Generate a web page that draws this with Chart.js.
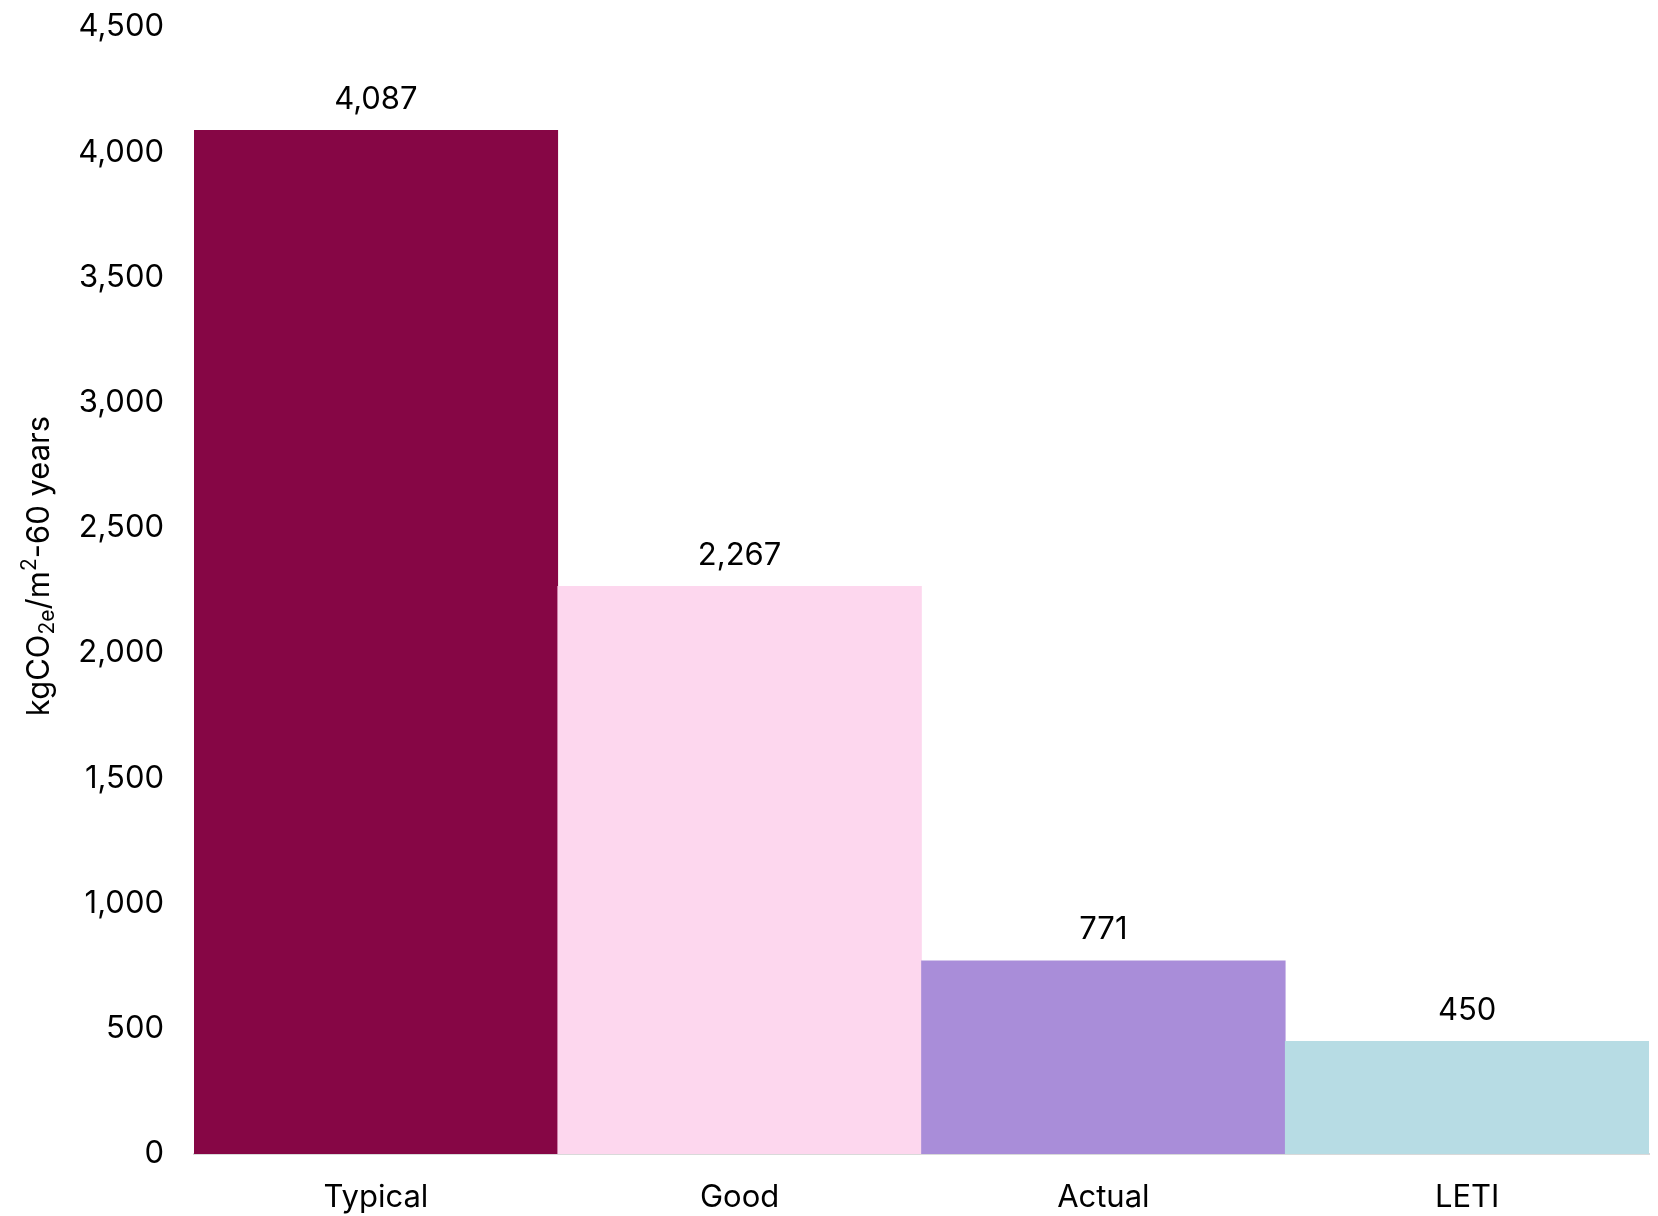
<!DOCTYPE html>
<html lang="en">
<head>
<meta charset="UTF-8">
<title>Embodied carbon comparison</title>
<script src="https://cdn.jsdelivr.net/npm/chart.js"></script>
<style>
    html, body { margin: 0; padding: 0; background: #ffffff; }
    #wrap { width: 1658px; height: 1216px; }
</style>
</head>
<body>
<div id="wrap"><canvas id="carbonChart"></canvas></div>
<script>
const categories = ['Typical', 'Good', 'Actual', 'LETI'];
const carbonValues = [4087, 2267, 771, 450];
const barColors = ['#860645', '#FDD7EE', '#A98DD9', '#B7DCE4'];
const yTicks = [0, 500, 1000, 1500, 2000, 2500, 3000, 3500, 4000, 4500];

const FONT = 'Inter, "Noto Sans", sans-serif';

// value labels above each bar
const barLabels = {
    id: 'barLabels',
    afterDatasetsDraw(chart) {
        const ctx = chart.ctx;
        const meta = chart.getDatasetMeta(0);
        ctx.save();
        ctx.font = '31px ' + FONT;
        ctx.fillStyle = '#000';
        ctx.textAlign = 'center';
        ctx.textBaseline = 'middle';
        meta.data.forEach((bar, i) => {
            ctx.fillText(carbonValues[i].toLocaleString('en-US'), bar.x, bar.y - 31);
        });
        ctx.restore();
    }
};

// rotated y title with subscript / superscript
const yTitle = {
    id: 'yTitle',
    afterDraw(chart) {
        const ctx = chart.ctx;
        const parts = [
            { t: 'kgCO', size: 31, dy: 0 },
            { t: '2e', size: 21, dy: 8 },
            { t: '/m', size: 31, dy: 0 },
            { t: '2', size: 21, dy: -10 },
            { t: '-60 years', size: 31, dy: 0 }
        ];
        ctx.save();
        let total = 0;
        parts.forEach(p => { ctx.font = p.size + 'px ' + FONT; p.w = ctx.measureText(p.t).width; total += p.w; });
        ctx.translate(40, 566);
        ctx.rotate(-Math.PI / 2);
        ctx.fillStyle = '#000';
        ctx.textBaseline = 'middle';
        ctx.textAlign = 'left';
        let x = -total / 2;
        parts.forEach(p => {
            ctx.font = p.size + 'px ' + FONT;
            ctx.fillText(p.t, x, p.dy);
            x += p.w;
        });
        ctx.restore();
    }
};

const ctx = document.getElementById('carbonChart').getContext('2d');
new Chart(ctx, {
    type: 'bar',
    data: {
        labels: categories,
        datasets: [{
            data: carbonValues,
            backgroundColor: barColors,
            borderWidth: 0,
            categoryPercentage: 1.0,
            barPercentage: 1.0
        }]
    },
    options: {
        responsive: true,
        maintainAspectRatio: false,
        animation: false,
        layout: { padding: { top: 27, right: 9, left: 0, bottom: 0 } },
        plugins: {
            legend: { display: false },
            tooltip: { enabled: false }
        },
        scales: {
            x: {
                grid: { display: false, drawTicks: false },
                border: { display: true, color: '#d9d9d9', width: 2 },
                ticks: { color: '#000', font: { family: FONT, size: 31 }, padding: 25 },
                afterFit(scale) { scale.height = 62; scale.paddingLeft = 0; scale.paddingRight = 0; }
            },
            y: {
                min: 0,
                max: 4500,
                grid: { display: false, drawTicks: false },
                border: { display: false },
                afterBuildTicks(scale) { scale.ticks = yTicks.map(v => ({ value: v })); },
                ticks: {
                    color: '#000',
                    font: { family: FONT, size: 31 },
                    padding: 30,
                    callback: v => v.toLocaleString('en-US')
                },
                afterFit(scale) { scale.width = 194; scale.paddingTop = 0; scale.paddingBottom = 0; }
            }
        }
    },
    plugins: [barLabels, yTitle]
});
</script>
</body>
</html>
